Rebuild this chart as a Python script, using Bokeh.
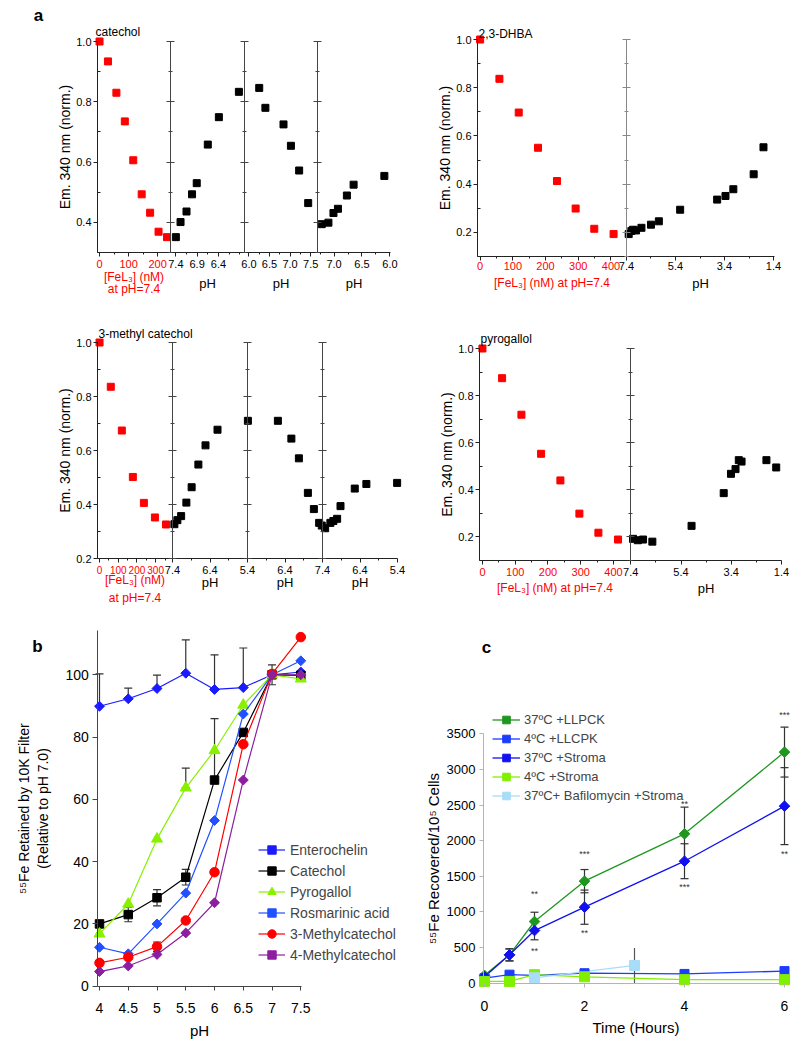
import numpy as np
from bokeh.plotting import figure
from bokeh.layouts import column, row
from bokeh.models import (Range1d, LinearAxis, FixedTicker, Label, Legend, LegendItem,
                          Whisker, TeeHead, ColumnDataSource, CustomJSTickFormatter,
                          PrintfTickFormatter, Spacer)
from bokeh.core.properties import value
from bokeh.embed import file_html
from bokeh.resources import INLINE

FONT = "Liberation Sans"
RED = "#ff0000"
BLACK = "#000000"

# ======================= DATA =======================
# ---- panel a : catechol ----
cat_fe_nM = [0, 29, 58, 87, 116, 145, 174, 203, 232]
cat_fe_em = [1.0, 0.934, 0.830, 0.735, 0.606, 0.493, 0.432, 0.369, 0.351]
cat_ph1 = [7.40, 7.29, 7.15, 7.02, 6.91, 6.65, 6.39, 5.92]
cat_ph1_em = [0.351, 0.401, 0.436, 0.493, 0.530, 0.658, 0.749, 0.833]
cat_ph2 = [6.25, 6.40, 6.84, 7.02, 7.22, 7.44]
cat_ph2_em = [0.846, 0.780, 0.725, 0.654, 0.572, 0.464]
cat_ph3 = [7.22, 7.10, 7.01, 6.93, 6.77, 6.65, 6.10]
cat_ph3_em = [0.394, 0.399, 0.431, 0.445, 0.489, 0.525, 0.554]

# ---- panel a : 2,3-DHBA ----
dhba_fe_nM = [0, 59, 118, 177, 235, 292, 349, 408]
dhba_fe_em = [1.0, 0.837, 0.697, 0.551, 0.413, 0.299, 0.215, 0.193]
dhba_ph = [7.31, 7.20, 7.13, 7.01, 6.79, 6.40, 6.08, 5.21, 3.70, 3.36, 3.04, 2.21, 1.81]
dhba_ph_em = [0.193, 0.206, 0.211, 0.208, 0.219, 0.232, 0.246, 0.294, 0.336, 0.351, 0.379, 0.441, 0.553]

# ---- panel a : 3-methyl catechol ----
mc_fe_nM = [0, 60, 119, 178, 237, 296, 355]
mc_fe_em = [1.0, 0.836, 0.674, 0.502, 0.406, 0.352, 0.326]
mc_ph1 = [7.35, 7.27, 7.17, 7.03, 6.89, 6.71, 6.52, 6.20]
mc_ph1_em = [0.327, 0.342, 0.357, 0.407, 0.464, 0.548, 0.619, 0.677]
mc_ph2 = [5.41, 6.21, 6.57, 6.77, 7.01, 7.17, 7.31, 7.38]
mc_ph2_em = [0.710, 0.710, 0.644, 0.571, 0.443, 0.383, 0.332, 0.322]
mc_ph3 = [7.33, 7.19, 7.11, 7.01, 6.92, 6.54, 6.23, 5.41]
mc_ph3_em = [0.312, 0.332, 0.339, 0.347, 0.394, 0.459, 0.476, 0.480]

# ---- panel a : pyrogallol ----
pyro_fe_nM = [0, 60, 119, 179, 238, 296, 354, 414]
pyro_fe_em = [1.0, 0.874, 0.719, 0.553, 0.440, 0.299, 0.218, 0.189]
pyro_ph = [7.31, 7.12, 6.91, 6.54, 4.98, 3.70, 3.41, 3.23, 3.10, 2.99, 2.00, 1.61]
pyro_ph_em = [0.192, 0.186, 0.189, 0.180, 0.247, 0.386, 0.468, 0.488, 0.526, 0.520, 0.526, 0.495]

# ---- panel a : ticks ----
em_ticks_a = [0.4, 0.6, 0.8, 1.0]
em_minor_a = [0.3, 0.5, 0.7, 0.9]
em_ticks_b = [0.2, 0.4, 0.6, 0.8, 1.0]
em_minor_b = [0.1, 0.3, 0.5, 0.7, 0.9]
cat_fe_ticks = [0, 100, 200]
cat_ph1_ticks = [7.4, 6.9, 6.4]
cat_ph2_ticks = [6.0, 6.5, 7.0, 7.5]
cat_ph3_ticks = [7.0, 6.5, 6.0]
dhba_fe_ticks = [0, 100, 200, 300, 400]
dhba_ph_ticks = [7.4, 5.4, 3.4, 1.4]
mc_fe_ticks = [0, 100, 200, 300]
mc_ph1_ticks = [7.4, 6.4]
mc_ph2_ticks = [5.4, 6.4]
mc_ph3_ticks = [7.4, 6.4, 5.4]
pyro_fe_ticks = [0, 100, 200, 300, 400]
pyro_ph_ticks = [7.4, 5.4, 3.4, 1.4]

# ---- panel b ----
b_ph = [4, 4.5, 5, 5.5, 6, 6.5, 7, 7.5]
b_enterochelin = [89.9, 92.3, 95.6, 100.5, 95.3, 95.9, 100.0, 100.9]
b_enterochelin_lo = [0, 0, 0, 0, 0, 0, 0, 0]
b_enterochelin_hi = [10.4, 3.4, 4.3, 10.7, 11.1, 12.7, 0, 0]
b_catechol = [20.0, 23.0, 28.4, 35.0, 66.2, 81.5, 100.0, 99.8]
b_catechol_lo = [0, 2.3, 2.6, 2.5, 0, 0, 3.2, 0]
b_catechol_hi = [0, 2.3, 2.6, 2.5, 19.7, 0, 3.2, 0]
b_pyrogallol = [16.8, 26.4, 47.3, 63.7, 75.7, 90.3, 100.0, 98.7]
b_pyrogallol_lo = [0, 0, 0, 0, 0, 0, 0, 0]
b_pyrogallol_hi = [0, 0, 0, 6.3, 0, 0, 0, 0]
b_rosmarinic = [12.5, 10.4, 20.0, 29.9, 53.2, 87.4, 100.0, 104.5]
b_3mc = [7.5, 9.3, 12.7, 21.1, 36.6, 77.7, 100.3, 112.1]
b_3mc_lo = [0, 0, 1.5, 0, 0, 0, 0, 0]
b_3mc_hi = [0, 0, 1.5, 0, 0, 0, 0, 0]
b_4mc = [4.7, 6.5, 10.2, 17.1, 26.8, 66.2, 100.0, 100.0]
b_y_ticks = [0, 20, 40, 60, 80, 100]

# ---- panel c ----
c_time = [0, 0.5, 1, 2, 4, 6]
c_llpck_37 = [110, 398, 866, 1432, 2096, 3243]
c_llpck_37_err = [0, 85, 130, 163, 375, 350]
c_llcpk_4 = [70, 120, 110, 140, 130, 170]
c_stroma_37 = [90, 398, 739, 1067, 1712, 2485]
c_stroma_37_err = [0, 85, 130, 240, 245, 540]
c_stroma_4 = [25, 25, 120, 90, 50, 50]
c_baf_time = [1, 3]
c_baf = [76, 249]
c_baf_err = [0, 245]
c_star_x = [1, 1, 2, 2, 4, 4, 6, 6]
c_star_y = [1245, 445, 1815, 702, 2517, 1348, 3757, 1815]
c_star_txt = ["**", "**", "***", "**", "**", "***", "***", "**"]
c_x_ticks = [0, 2, 4, 6]
c_y_ticks = [0, 500, 1000, 1500, 2000, 2500, 3000, 3500]

# ======================= LAYOUT (page px) =======================
# fig = (left, top, width, height) of the canvas; axes = (l, r, t, b) of the plot box
cat_box = dict(fig=(8, 0, 392, 305), axes=(99, 392, 41, 252))
dhba_box = dict(fig=(400, 0, 404, 305), axes=(479, 776, 39, 256))
mc_box = dict(fig=(8, 305, 402, 305), axes=(99, 399, 342, 558))
pyro_box = dict(fig=(410, 305, 394, 305), axes=(481, 783, 348, 560))
b_box = dict(fig=(8, 610, 412, 432), axes=(101, 302.3, 674.3, 985.7))
c_box = dict(fig=(420, 610, 384, 432), axes=(486, 786, 733.3, 982.7))


def mapper(box, xr, yr):
    l, r, t, b = box["axes"]
    fx = lambda px: xr[0] + (px - l) / (r - l) * (xr[1] - xr[0])
    fy = lambda py: yr[1] - (py - t) / (b - t) * (yr[1] - yr[0])
    return fx, fy


def make_fig(box, xr, yr):
    fx0, fy0, fw, fh = box["fig"]
    X, Y = mapper(box, xr, yr)
    p = figure(frame_width=fw, frame_height=fh, min_border=0,
               x_range=Range1d(X(fx0), X(fx0 + fw)), y_range=Range1d(Y(fy0 + fh), Y(fy0)),
               x_axis_type=None, y_axis_type=None, title_location=None,
               output_backend="svg", toolbar_location=None)
    p.outline_line_color = None
    p.background_fill_color = "white"
    p.border_fill_color = "white"
    return p


def add_text(p, box, xr, yr, px, py, text, size, bold=False, align="left", color=BLACK):
    X, Y = mapper(box, xr, yr)
    p.add_layout(Label(x=X(px), y=Y(py), text=text, text_font=FONT, text_font_size=size,
                       text_font_style="bold" if bold else "normal",
                       text_align=align, text_baseline="middle", text_color=color))


def style_axis(ax, size, color, label_size, label_color=BLACK, line_color="#222222"):
    ax.major_label_text_font = FONT
    ax.major_label_text_font_size = size
    ax.major_label_text_color = color
    ax.axis_label_text_font = FONT
    ax.axis_label_text_font_size = label_size
    ax.axis_label_text_font_style = "normal"
    ax.axis_label_text_color = label_color
    ax.axis_line_color = line_color
    ax.major_tick_line_color = line_color
    ax.minor_tick_line_color = line_color


def seg_panel(box, yr, yticks, yminor, segs, sep_color, red_line_height, tick_standoff,
              fe_tick_size="11px"):
    n = len(segs)
    xr = (0, n)
    p = make_fig(box, xr, yr)
    U0, U1 = p.x_range.start, p.x_range.end

    ya = LinearAxis(fixed_location=0, bounds=yr,
                    ticker=FixedTicker(ticks=yticks, minor_ticks=yminor),
                    formatter=PrintfTickFormatter(format="%.1f"),
                    axis_label="Em. 340 nm (norm.)")
    style_axis(ya, "11px", BLACK, "14px")
    ya.major_tick_out = 4
    ya.major_tick_in = 0
    ya.minor_tick_out = 0
    ya.minor_tick_in = 3
    ya.major_label_standoff = 2
    ya.axis_label_standoff = 0
    p.add_layout(ya, "left")

    ranges = {}
    for k, sg in enumerate(segs):
        a, e = sg["range"]
        d = lambda u: a + (u - k) * (e - a)
        ranges[f"s{k}"] = Range1d(start=d(U0), end=d(U1))
    p.extra_x_ranges = ranges

    for k, sg in enumerate(segs):
        a, e = sg["range"]
        red = sg["color"] == RED
        ax = LinearAxis(x_range_name=f"s{k}", fixed_location=yr[0],
                        bounds=(min(a, e), max(a, e)),
                        ticker=FixedTicker(ticks=sg["ticks"], minor_ticks=sg["minor"]),
                        axis_label=sg["label"])
        if not red:
            ax.formatter = PrintfTickFormatter(format="%.1f")
        style_axis(ax, fe_tick_size if red else "11px", RED if red else BLACK,
                   "12px" if red else "13px", RED if red else BLACK)
        ax.major_tick_out = 4
        ax.major_tick_in = 0
        ax.minor_tick_out = 2
        ax.minor_tick_in = 0
        ax.major_label_standoff = tick_standoff
        ax.axis_label_standoff = sg["standoff"]
        ax.axis_label_text_line_height = red_line_height
        p.add_layout(ax, "below")
        if k > 0:
            sa = LinearAxis(fixed_location=k, bounds=yr,
                            ticker=FixedTicker(ticks=yticks, minor_ticks=yminor))
            style_axis(sa, "11px", None, "11px", line_color=sep_color)
            sa.major_tick_in = 4
            sa.major_tick_out = 4
            sa.minor_tick_in = 2
            sa.minor_tick_out = 2
            p.add_layout(sa, "left")
        p.scatter(sg["xs"], sg["ys"], x_range_name=f"s{k}", marker="square", size=7,
                  fill_color=sg["color"], line_color=sg["color"])
    return p, xr


FE2 = "[FeL\u2083] (nM)\nat pH=7.4"
FE1 = "[FeL\u2083] (nM) at pH=7.4"

# ---------------- catechol ----------------
cat_yr = (0.3, 1.0)
pcat, cat_xr = seg_panel(cat_box, cat_yr, em_ticks_a, em_minor_a, [
    dict(range=(-7, 245), ticks=cat_fe_ticks, minor=[50, 150], label=FE2, color=RED,
         xs=cat_fe_nM, ys=cat_fe_em, standoff=-1),
    dict(range=(7.52, 5.80), ticks=cat_ph1_ticks, minor=[7.15, 6.65, 6.15, 5.9], label="pH",
         color=BLACK, xs=cat_ph1, ys=cat_ph1_em, standoff=5),
    dict(range=(5.88, 7.66), ticks=cat_ph2_ticks, minor=[6.25, 6.75, 7.25], label="pH",
         color=BLACK, xs=cat_ph2, ys=cat_ph2_em, standoff=5),
    dict(range=(7.30, 5.99), ticks=cat_ph3_ticks, minor=[7.25, 6.75, 6.25], label="pH",
         color=BLACK, xs=cat_ph3, ys=cat_ph3_em, standoff=5),
], "#444444", 0.92, 3)
add_text(pcat, cat_box, cat_xr, cat_yr, 40, 15, "a", "17px", bold=True, align="center")
add_text(pcat, cat_box, cat_xr, cat_yr, 97, 31, "catechol", "12px")

# ---------------- 2,3-DHBA ----------------
dhba_yr = (0.1, 1.0)
pdhba, dhba_xr = seg_panel(dhba_box, dhba_yr, em_ticks_b, em_minor_b, [
    dict(range=(-8, 446), ticks=dhba_fe_ticks, minor=[50, 150, 250, 350], label=FE1, color=RED,
         xs=dhba_fe_nM, ys=dhba_fe_em, standoff=3),
    dict(range=(7.42, 1.36), ticks=dhba_ph_ticks, minor=[6.4, 4.4, 2.4], label="pH",
         color=BLACK, xs=dhba_ph, ys=dhba_ph_em, standoff=3),
], "#888888", 1.2, 1)
add_text(pdhba, dhba_box, dhba_xr, dhba_yr, 480, 33, "2,3-DHBA", "12px")

# ---------------- 3-methyl catechol ----------------
mc_yr = (0.2, 1.0)
pmc, mc_xr = seg_panel(mc_box, mc_yr, em_ticks_b, em_minor_a, [
    dict(range=(-11, 390), ticks=mc_fe_ticks, minor=[50, 150, 250, 350], label=FE2, color=RED,
         xs=mc_fe_nM, ys=mc_fe_em, standoff=-4),
    dict(range=(7.4, 5.4), ticks=mc_ph1_ticks, minor=[6.9, 5.9], label="pH",
         color=BLACK, xs=mc_ph1, ys=mc_ph1_em, standoff=-2),
    dict(range=(5.4, 7.4), ticks=mc_ph2_ticks, minor=[5.9, 6.9], label="pH",
         color=BLACK, xs=mc_ph2, ys=mc_ph2_em, standoff=-2),
    dict(range=(7.4, 5.4), ticks=mc_ph3_ticks, minor=[6.9, 5.9], label="pH",
         color=BLACK, xs=mc_ph3, ys=mc_ph3_em, standoff=-2),
], "#444444", 1.3, 3, fe_tick_size="10px")
add_text(pmc, mc_box, mc_xr, mc_yr, 100, 333, "3-methyl catechol", "12px")

# ---------------- pyrogallol ----------------
pyro_yr = (0.1, 1.0)
ppyro, pyro_xr = seg_panel(pyro_box, pyro_yr, em_ticks_b, em_minor_b, [
    dict(range=(-9, 452), ticks=pyro_fe_ticks, minor=[50, 150, 250, 350], label=FE1, color=RED,
         xs=pyro_fe_nM, ys=pyro_fe_em, standoff=2),
    dict(range=(7.41, 1.40), ticks=pyro_ph_ticks, minor=[6.4, 4.4, 2.4], label="pH",
         color=BLACK, xs=pyro_ph, ys=pyro_ph_em, standoff=2),
], "#444444", 1.2, 3)
add_text(ppyro, pyro_box, pyro_xr, pyro_yr, 482, 338, "pyrogallol", "12px")


def add_err(p, xs, ys, lo, hi, color="#333333", cap=8):
    idx = [i for i in range(len(xs)) if lo[i] > 0 or hi[i] > 0]
    if not idx:
        return
    src = ColumnDataSource(dict(base=[xs[i] for i in idx],
                                lower=[ys[i] - lo[i] for i in idx],
                                upper=[ys[i] + hi[i] for i in idx]))
    w = Whisker(source=src, base="base", lower="lower", upper="upper", dimension="height",
                line_color=color, line_width=1.2, level="underlay",
                upper_head=TeeHead(size=cap, line_color=color, line_width=1.2),
                lower_head=TeeHead(size=cap, line_color=color, line_width=1.2))
    p.add_layout(w)


# ---------------- panel b ----------------
b_xr = (4, 7.5)
b_yr = (0, 100)
pb = make_fig(b_box, b_xr, b_yr)
bxa = LinearAxis(fixed_location=0, bounds=(3.97, 7.52), ticker=FixedTicker(ticks=b_ph),
                 formatter=CustomJSTickFormatter(code="return String(tick)"), axis_label="pH")
style_axis(bxa, "14px", BLACK, "15px", line_color="#444444")
bxa.major_tick_out = 4
bxa.major_tick_in = 0
bxa.major_label_standoff = 13
bxa.axis_label_standoff = 5
pb.add_layout(bxa, "below")
bya = LinearAxis(fixed_location=3.97, bounds=(0, 114.3), ticker=FixedTicker(ticks=b_y_ticks),
                 axis_label="\u2075\u2075Fe Retained by 10K Filter\n(Relative to pH 7.0)")
style_axis(bya, "14px", BLACK, "14px", line_color="#444444")
bya.major_tick_out = 5
bya.major_tick_in = 0
bya.major_label_standoff = 4
bya.axis_label_standoff = 11
pb.add_layout(bya, "left")

add_err(pb, b_ph, b_enterochelin, b_enterochelin_lo, b_enterochelin_hi)
add_err(pb, b_ph, b_catechol, b_catechol_lo, b_catechol_hi)
add_err(pb, b_ph, b_pyrogallol, b_pyrogallol_lo, b_pyrogallol_hi)
add_err(pb, b_ph, b_3mc, b_3mc_lo, b_3mc_hi)

b_series = [
    ("Enterochelin", b_enterochelin, "#1a1aff", "square", np.pi / 4, 7),
    ("Catechol", b_catechol, "#000000", "square", 0, 8.5),
    ("Pyrogallol", b_pyrogallol, "#88f000", "triangle", 0, 11),
    ("Rosmarinic acid", b_rosmarinic, "#2050ff", "square", np.pi / 4, 7),
    ("3-Methylcatechol", b_3mc, "#ff0000", "circle", 0, 9.5),
    ("4-Methylcatechol", b_4mc, "#8c1fa0", "square", np.pi / 4, 7),
]
b_items = []
for name, ys, col, mk, ang, sz in b_series:
    lr = pb.line(b_ph, ys, line_color=col, line_width=1.2)
    sr = pb.scatter(b_ph, ys, marker=mk, angle=ang, size=sz, fill_color=col, line_color=col)
    b_items.append(LegendItem(label=name, renderers=[lr, sr]))
b_leg = Legend(items=b_items, location=(252, 77), glyph_width=27, glyph_height=21,
               label_height=21, spacing=0, padding=0, margin=0, label_standoff=5,
               border_line_color=None, background_fill_alpha=0,
               label_text_font=FONT, label_text_font_size="14px")
pb.add_layout(b_leg)
add_text(pb, b_box, b_xr, b_yr, 39, 646, "b", "17px", bold=True, align="center")

# ---------------- panel c ----------------
c_xr = (0, 6)
c_yr = (0, 3500)
pc = make_fig(c_box, c_xr, c_yr)
cxa = LinearAxis(fixed_location=0, bounds=(-0.02, 6.08), ticker=FixedTicker(ticks=c_x_ticks),
                 axis_label="Time (Hours)")
style_axis(cxa, "14px", BLACK, "15px", line_color="#b4b4b4")
cxa.major_tick_out = 4
cxa.major_tick_in = 0
cxa.major_label_standoff = 14
cxa.axis_label_standoff = 4
pc.add_layout(cxa, "below")
cya = LinearAxis(fixed_location=-0.02, bounds=(0, 3500), ticker=FixedTicker(ticks=c_y_ticks),
                 axis_label="\u2075\u2075Fe Recovered/10\u2075 Cells")
style_axis(cya, "13px", BLACK, "15px", line_color="#b4b4b4")
cya.major_tick_out = 4
cya.major_tick_in = 0
cya.major_label_standoff = 4
cya.axis_label_standoff = 2
pc.add_layout(cya, "left")

add_err(pc, c_time, c_llpck_37, c_llpck_37_err, c_llpck_37_err)
add_err(pc, c_time, c_stroma_37, c_stroma_37_err, c_stroma_37_err)
add_err(pc, c_baf_time, c_baf, c_baf_err, c_baf_err, color="#555555", cap=0)

c_series = [
    ("37\u00baC +LLPCK", c_time, c_llpck_37, "#1f961f", "square", np.pi / 4, 7.5),
    ("4\u00baC +LLCPK", c_time, c_llcpk_4, "#1c3cff", "square", 0, 9),
    ("37\u00baC +Stroma", c_time, c_stroma_37, "#1010f0", "square", np.pi / 4, 7.5),
    ("4\u00baC +Stroma", c_time, c_stroma_4, "#80f000", "square", 0, 10),
    ("37\u00baC+ Bafilomycin +Stroma", c_baf_time, c_baf, "#a8dcf8", "square", 0, 10),
]
c_lines = {}
for name, xs, ys, col, mk, ang, sz in c_series:
    c_lines[name] = pc.line(xs, ys, line_color=col, line_width=1.3)
c_items = []
for name, xs, ys, col, mk, ang, sz in c_series:
    sr = pc.scatter(xs, ys, marker=mk, angle=ang, size=sz, fill_color=col, line_color=col)
    c_items.append(LegendItem(label=name, renderers=[c_lines[name], sr]))
pc.text(x=c_star_x, y=c_star_y, text=c_star_txt, text_font=value(FONT),
        text_font_size="9px", text_align="center", text_baseline="middle",
        text_color="#333333")
c_leg = Legend(items=c_items, location=(74, 237), glyph_width=28, glyph_height=19,
               label_height=19, spacing=0, padding=0, margin=0, label_standoff=4,
               border_line_color=None, background_fill_alpha=0,
               label_text_font=FONT, label_text_font_size="13px")
pc.add_layout(c_leg)
add_text(pc, c_box, c_xr, c_yr, 488, 647, "c", "17px", bold=True, align="center")

grid = column(row(pcat, pdhba), row(pmc, ppyro), row(pb, pc))
layout = row(Spacer(width=6), grid)
open("out.html", "w").write(file_html(layout, INLINE))
